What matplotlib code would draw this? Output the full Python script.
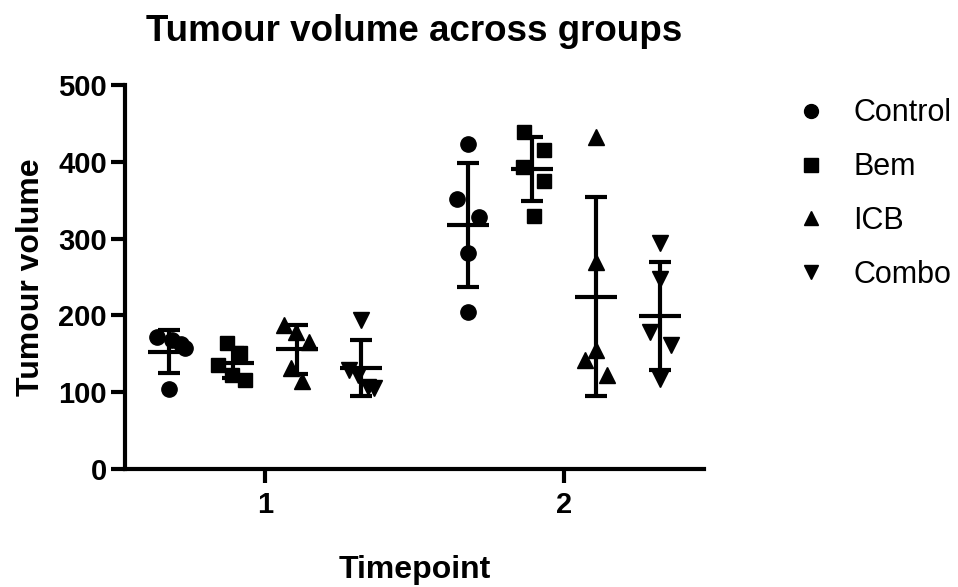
import numpy as np
import matplotlib
matplotlib.use('Agg')
import matplotlib.pyplot as plt
from matplotlib.lines import Line2D

plt.rcParams['font.family'] = ['Liberation Sans', 'DejaVu Sans']

# tumour volumes per mouse, timepoint 1 and 2
groups = ['Control', 'Bem', 'ICB', 'Combo']
markers = ['o', 's', '^', 'v']
timepoints = [1, 2]

control_t1 = [172, 168, 163, 157, 104]
bem_t1 = [164, 151, 136, 123, 116]
icb_t1 = [188, 179, 166, 132, 114]
combo_t1 = [194, 129, 123, 107, 106]

control_t2 = [423, 351, 328, 281, 205]
bem_t2 = [439, 415, 393, 375, 329]
icb_t2 = [432, 270, 155, 142, 123]
combo_t2 = [294, 247, 178, 162, 117]

volumes = {
    1: [control_t1, bem_t1, icb_t1, combo_t1],
    2: [control_t2, bem_t2, icb_t2, combo_t2],
}

# horizontal spread of overlapping dots (in pixels)
spread = {
    1: [[-12, 3, 12, 16, 0], [-6, 7, -15, -1, 12], [-13, -1, 12, -6, 5], [0, -12, -3, 7, 13]],
    2: [[0, -11, 11, 0, 0], [-8, 12, -9, 12, 2], [0, 0, 0, -11, 11], [0, 0, -10, 11, 0]],
}

fig = plt.figure(figsize=(9.58, 5.87), dpi=100)
ax = fig.add_axes([125 / 958, 118 / 587, 579 / 958, 384 / 587])

px = 1 / 299  # data units per pixel on the x axis
group_step = 64 * px
for tp in timepoints:
    for i, (vals, m) in enumerate(zip(volumes[tp], markers)):
        xc = tp + (i - 1.5) * group_step
        vals = np.array(vals, dtype=float)
        xs = xc + np.array(spread[tp][i]) * px
        ax.plot(xs, vals, linestyle='none', marker=m, color='black',
                markersize=11 if m != 's' else 10, zorder=3)
        mean = vals.mean()
        sd = vals.std(ddof=1)
        ax.errorbar([xc], [mean], yerr=[sd], fmt='none', ecolor='black',
                    elinewidth=3, capsize=8, capthick=3, zorder=4)
        ax.hlines(mean, xc - 21 * px, xc + 21 * px, color='black', linewidth=3, zorder=4)

ax.set_xlim(1 - 140 * px, 2 + 140 * px)
ax.set_ylim(0, 500)
ax.set_xticks(timepoints)
ax.set_yticks([0, 100, 200, 300, 400, 500])

for side in ['top', 'right']:
    ax.spines[side].set_visible(False)
for side in ['left', 'bottom']:
    ax.spines[side].set_linewidth(3)
ax.tick_params(width=3, length=10, labelsize=21)
ax.tick_params(axis='y', pad=3)
ax.tick_params(axis='x', pad=6)
for lab in ax.get_xticklabels() + ax.get_yticklabels():
    lab.set_fontweight('bold')

ax.set_xlabel('Timepoint', fontsize=23, fontweight='bold', labelpad=26)
ax.set_ylabel('Tumour volume', fontsize=23, fontweight='bold', labelpad=9)
ax.set_title('Tumour volume across groups', fontsize=26.5, fontweight='bold', pad=32)

handles = [Line2D([], [], linestyle='none', marker=m, color='black', markersize=10)
           for m in markers]
ax.legend(handles, groups, loc='upper left', bbox_to_anchor=(777 / 958, 1 - 74 / 587),
          bbox_transform=fig.transFigure, frameon=False, fontsize=22,
          handlelength=0.6, handletextpad=1.1, labelspacing=0.78, borderpad=0.3)

fig.savefig('out.png', dpi=100)
